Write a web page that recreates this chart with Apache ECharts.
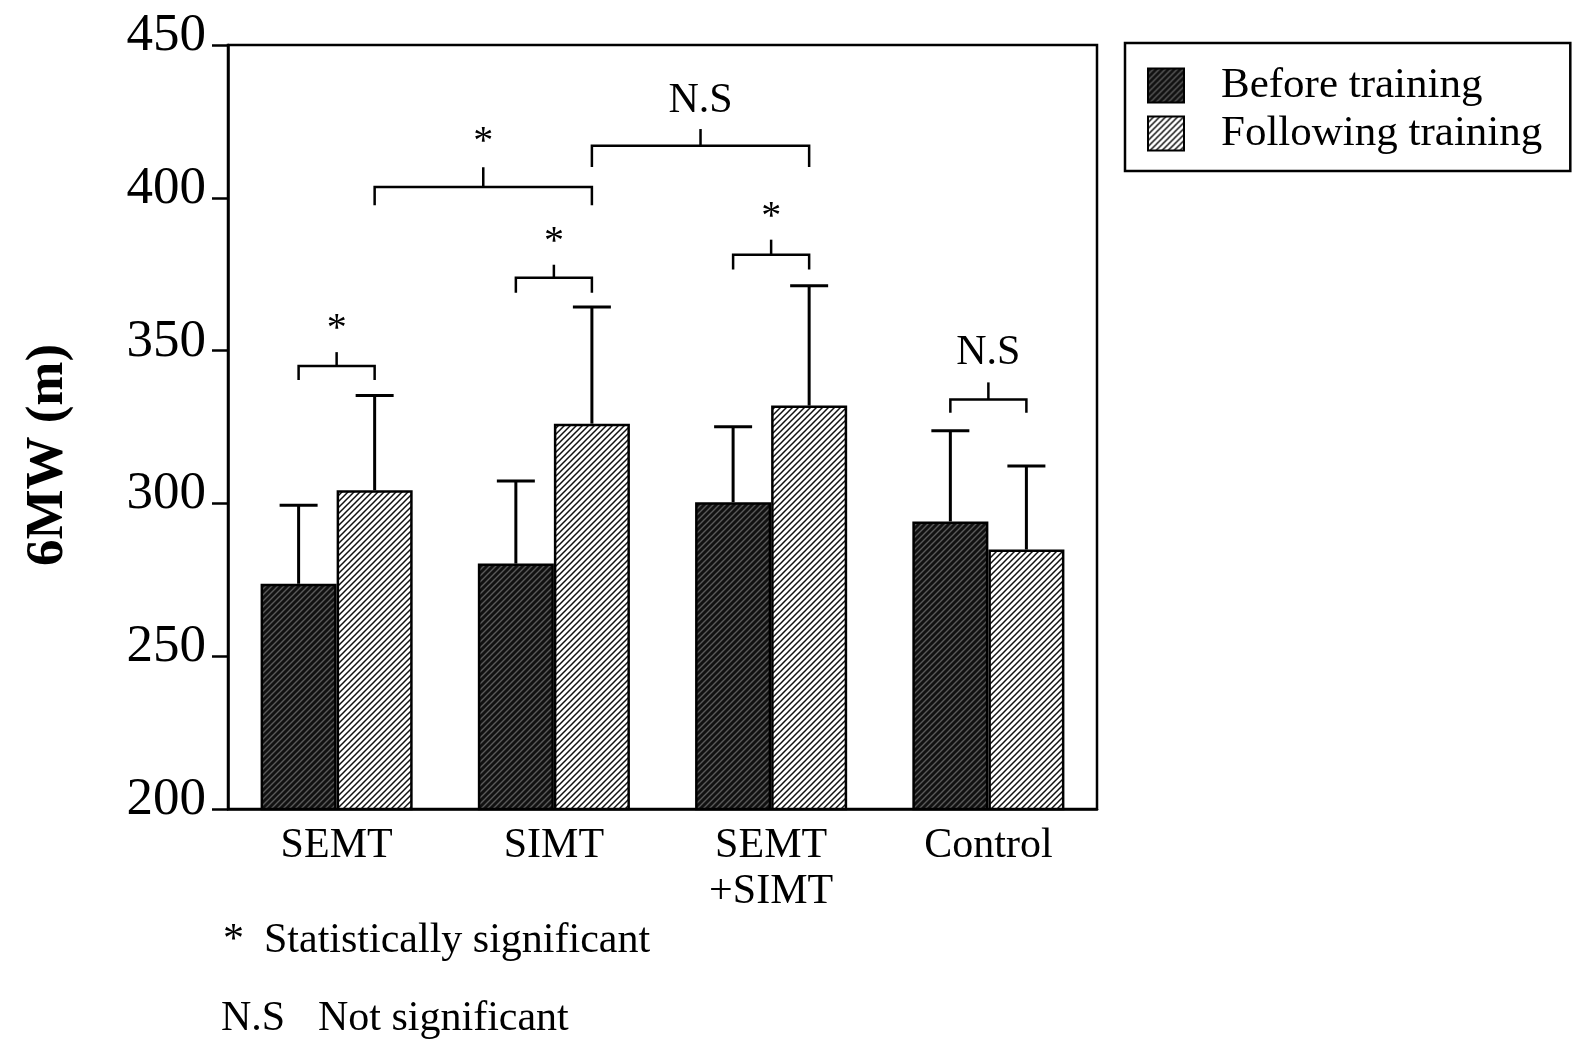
<!DOCTYPE html>
<html>
<head>
<meta charset="utf-8">
<script src="https://cdn.jsdelivr.net/npm/echarts@6/dist/echarts.min.js"></script>
<style>
html,body{margin:0;padding:0;background:#fff;}
#chart{width:1578px;height:1044px;}
</style>
</head>
<body>
<div id="chart"></div>
<script>
// ---- data ----
const categories = ['SEMT', 'SIMT', 'SEMT\n+SIMT', 'Control'];
const seriesNames = ['Before training', 'Following training'];
const beforeMeans = [273.7, 280.3, 300.4, 294.1];
const beforeSD = [25.7, 27.0, 24.7, 29.7];
const followMeans = [304.3, 326.1, 332.0, 284.9];
const followSD = [31.0, 38.2, 39.2, 27.3];
const yTicks = [200, 250, 300, 350, 400, 450];

// significance brackets: [category, series(0=before,1=following)]
const bracketFrom = [[0, 0], [1, 0], [0, 1], [1, 1], [2, 0], [3, 0]];
const bracketTo = [[0, 1], [1, 1], [1, 1], [2, 1], [2, 1], [3, 1]];
const bracketLineY = [345.0, 373.8, 403.5, 417.0, 381.4, 334.0];
const bracketEndY = [340.4, 368.9, 397.6, 410.1, 376.5, 329.7];
const bracketTickY = [349.5, 378.1, 410.0, 422.5, 386.3, 339.6];
const bracketLabelY = [360.0, 388.3, 420.9, 431.8, 396.5, 349.2];
const bracketLabels = ['*', '*', '*', 'N.S', '*', 'N.S'];

// ---- patterns ----
function hatch(bg, fg, lw) {
  const s = 6;
  const c = document.createElement('canvas');
  c.width = s; c.height = s;
  const g = c.getContext('2d');
  g.fillStyle = bg; g.fillRect(0, 0, s, s);
  g.strokeStyle = fg; g.lineWidth = lw;
  g.beginPath();
  g.moveTo(-1, s + 1); g.lineTo(s + 1, -1);
  g.moveTo(-1, 1); g.lineTo(1, -1);
  g.moveTo(s - 1, s + 1); g.lineTo(s + 1, s - 1);
  g.stroke();
  return { image: c, repeat: 'repeat' };
}
const darkPattern = hatch('#111111', '#5a5a5a', 1.4);
const lightPattern = hatch('#ffffff', '#111111', 1.5);

const FONT = '"Liberation Serif", "DejaVu Serif", serif';
const BAR_OFF = 0.175; // half of bar width fraction (barCategoryGap 30%, two bars)

const errData = [];
beforeMeans.forEach((m, i) => errData.push([i, m, m + beforeSD[i], 0]));
followMeans.forEach((m, i) => errData.push([i, m, m + followSD[i], 1]));

const bracketData = bracketLabels.map((l, i) => [
  bracketFrom[i][0], bracketLineY[i], bracketFrom[i][1],
  bracketTo[i][0], bracketTo[i][1], bracketEndY[i], bracketTickY[i], bracketLabelY[i]
]);

const chart = echarts.init(document.getElementById('chart'), null, { renderer: 'canvas' });
chart.setOption({
  backgroundColor: '#fff',
  animation: false,
  grid: {
    left: 228, right: 481, top: 45, bottom: 235,
    show: true, borderColor: '#000', borderWidth: 2.5, backgroundColor: 'transparent'
  },
  legend: {
    orient: 'vertical',
    left: 1125, top: 43,
    padding: [21, 28, 16, 22],
    borderColor: '#000', borderWidth: 2.5,
    icon: 'rect',
    itemWidth: 36, itemHeight: 34, itemGap: 5,
    selectedMode: false,
    data: seriesNames,
    textStyle: { fontFamily: FONT, fontSize: 43, color: '#000', lineHeight: 34, padding: [0, 0, 0, 32] }
  },
  xAxis: {
    type: 'category',
    data: categories,
    axisLine: { show: true, lineStyle: { color: '#000', width: 2.5 } },
    axisTick: { show: false },
    axisLabel: { fontFamily: FONT, fontSize: 42, color: '#000', lineHeight: 46, margin: 14, interval: 0 }
  },
  yAxis: {
    type: 'value',
    min: 200, max: 450, interval: 50,
    splitLine: { show: false },
    axisLine: { show: true, lineStyle: { color: '#000', width: 2.5 } },
    axisTick: { show: true, length: 16, lineStyle: { color: '#000', width: 2.5 } },
    axisLabel: {
      color: '#000', margin: 22,
      formatter: v => yTicks.indexOf(v) >= 0 ? '{t|' + v + '}' : '',
      rich: {
        t: { fontFamily: FONT, fontSize: 53, color: '#000', padding: [0, 0, 18, 0] }
      }
    }
  },
  series: [
    {
      name: seriesNames[0], type: 'bar', data: beforeMeans,
      barGap: '0%', barCategoryGap: '30%',
      itemStyle: { color: darkPattern, borderColor: '#000', borderWidth: 2.5 }
    },
    {
      name: seriesNames[1], type: 'bar', data: followMeans,
      barGap: '0%', barCategoryGap: '30%',
      itemStyle: { color: lightPattern, borderColor: '#000', borderWidth: 2.5 }
    },
    {
      type: 'custom', silent: true, clip: false, z: 5,
      data: errData,
      renderItem: function (params, api) {
        const band = api.size([1, 0])[0];
        const side = api.value(3) === 0 ? -1 : 1;
        const p0 = api.coord([api.value(0), api.value(1)]);
        const p1 = api.coord([api.value(0), api.value(2)]);
        const x = p0[0] + side * band * BAR_OFF;
        const cap = 19;
        const st = { stroke: '#000', lineWidth: 3, fill: null };
        return {
          type: 'group', children: [
            { type: 'line', shape: { x1: x, y1: p0[1], x2: x, y2: p1[1] }, style: st },
            { type: 'line', shape: { x1: x - cap, y1: p1[1], x2: x + cap, y2: p1[1] }, style: st }
          ]
        };
      }
    },
    {
      type: 'custom', silent: true, clip: false, z: 6,
      data: bracketData,
      renderItem: function (params, api) {
        const band = api.size([1, 0])[0];
        const c1 = api.value(0), s1 = api.value(2), c2 = api.value(3), s2 = api.value(4);
        const yl = api.coord([c1, api.value(1)])[1];
        const ye = api.coord([c1, api.value(5)])[1];
        const yt = api.coord([c1, api.value(6)])[1];
        const ylab = api.coord([c1, api.value(7)])[1];
        const x1 = api.coord([c1, 0])[0] + (s1 === 0 ? -1 : 1) * band * BAR_OFF;
        const x2 = api.coord([c2, 0])[0] + (s2 === 0 ? -1 : 1) * band * BAR_OFF;
        const xm = (x1 + x2) / 2;
        const label = bracketLabels[params.dataIndex];
        const st = { stroke: '#000', lineWidth: 2.5, fill: null };
        const isStar = label === '*';
        return {
          type: 'group', children: [
            { type: 'polyline', shape: { points: [[x1, ye], [x1, yl], [x2, yl], [x2, ye]] }, style: st },
            { type: 'line', shape: { x1: xm, y1: yl, x2: xm, y2: yt }, style: st },
            {
              type: 'text', x: xm, y: ylab + (isStar ? 9 : 0),
              style: {
                text: label, fontFamily: FONT, fontSize: isStar ? 40 : 42, fill: '#000',
                align: 'center', verticalAlign: 'middle'
              }
            }
          ]
        };
      }
    }
  ],
  graphic: [
    {
      type: 'text', x: 48, y: 455, rotation: Math.PI / 2,
      style: { text: '6MW (m)', fontFamily: FONT, fontSize: 53, fontWeight: 'bold', fill: '#000', align: 'center', verticalAlign: 'middle' }
    },
    { type: 'text', x: 223, y: 941, style: { text: '*', fontFamily: FONT, fontSize: 42, fill: '#000', align: 'left', verticalAlign: 'middle' } },
    { type: 'text', x: 264, y: 941, style: { text: 'Statistically significant', fontFamily: FONT, fontSize: 42, fill: '#000', align: 'left', verticalAlign: 'middle' } },
    { type: 'text', x: 221, y: 1019, style: { text: 'N.S', fontFamily: FONT, fontSize: 42, fill: '#000', align: 'left', verticalAlign: 'middle' } },
    { type: 'text', x: 318, y: 1019, style: { text: 'Not significant', fontFamily: FONT, fontSize: 42, fill: '#000', align: 'left', verticalAlign: 'middle' } }
  ]
});
</script>
</body>
</html>
